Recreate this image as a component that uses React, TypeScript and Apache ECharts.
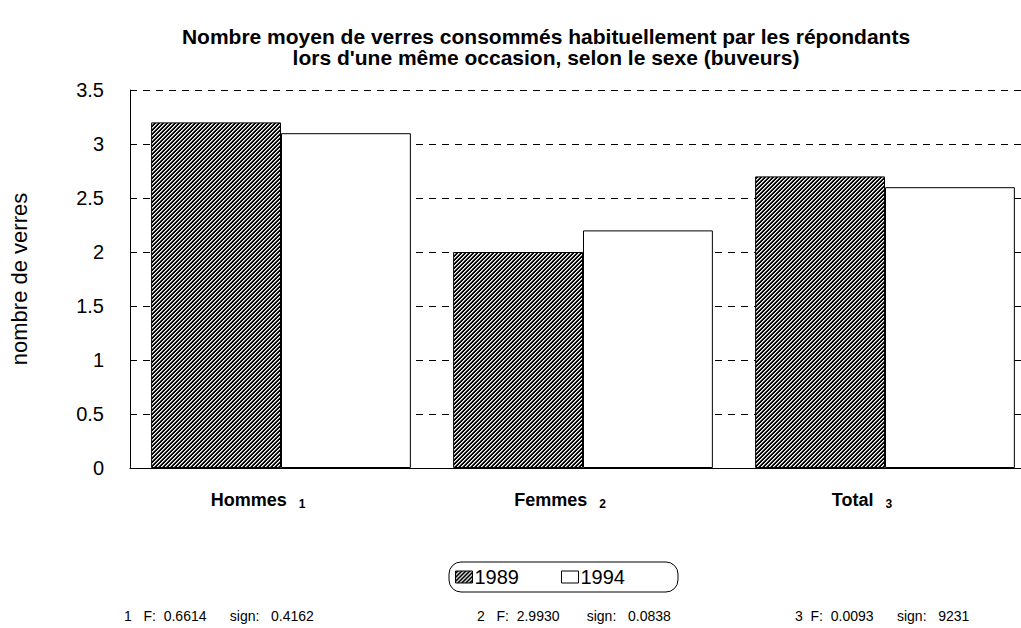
import React, { useEffect, useRef } from "react";
import * as echarts from "echarts";

const categories = ["Hommes", "Femmes", "Total"];
const notes = ["1", "2", "3"];
const seriesNames = ["1989", "1994"];
const values1989 = [3.2, 2.0, 2.7];
const values1994 = [3.1, 2.2, 2.6];
const footnotes = [
  "1   F:  0.6614      sign:   0.4162",
  "2   F:  2.9930       sign:   0.0838",
  "3  F:  0.0093      sign:   9231",
];
const titleLines = [
  "Nombre moyen de verres consommés habituellement par les répondants",
  "lors d'une même occasion, selon le sexe (buveurs)",
];

function makeHatch(): string {
  const c = document.createElement("canvas");
  c.width = 4;
  c.height = 4;
  const ctx = c.getContext("2d")!;
  ctx.fillStyle = "#000";
  ctx.fillRect(0, 0, 4, 4);
  for (let y = 0; y < 4; y++) {
    ctx.fillStyle = "#ffffff";
    ctx.fillRect((3 - y + 4) % 4, y, 1, 1);
    ctx.fillStyle = "#9a9a9a";
    ctx.fillRect((4 - y + 4) % 4, y, 1, 1);
  }
  return c.toDataURL();
}

export default function App() {
  const ref = useRef<HTMLDivElement>(null);
  useEffect(() => {
    if (!ref.current) return;
    const chart = echarts.init(ref.current, null, { renderer: "svg" });
    const hatch = { image: makeHatch(), repeat: "repeat" };
    const font = "'Liberation Sans', Arial, Helvetica, sans-serif";
    chart.setOption({
      animation: false,
      textStyle: { fontFamily: font, color: "#000" },
      title: {
        text: titleLines.join("\n"),
        left: 541,
        top: 21,
        textAlign: "center",
        textStyle: { fontSize: 21, fontWeight: "bold", lineHeight: 21, color: "#000", fontFamily: font },
      },
      legend: {
        left: 449,
        top: 562,
        icon: "rect",
        itemWidth: 17,
        itemHeight: 12,
        itemGap: 42,
        padding: [5, 53, 5, 6],
        borderColor: "#000",
        borderWidth: 1,
        borderRadius: 12,
        data: seriesNames,
        itemStyle: { borderColor: "#000", borderWidth: 1 },
        textStyle: { fontSize: 20, color: "#000", fontFamily: font, padding: [0, 0, 0, -3] },
      },
      grid: { left: 129, top: 90, width: 907, height: 378 },
      xAxis: {
        type: "category",
        data: categories,
        axisLine: { lineStyle: { color: "#000", width: 1 } },
        axisTick: { show: false },
        axisLabel: {
          margin: 22,
          padding: [0, 46, 0, 0],
          formatter: (v: string, i: number) => `{b|${v}}{s|${notes[i]}}`,
          rich: {
            b: { fontSize: 18, fontWeight: "bold", color: "#000", fontFamily: font },
            s: { fontSize: 12, fontWeight: "bold", color: "#000", fontFamily: font, padding: [8, 0, 0, 12] },
          },
        },
      },
      yAxis: {
        type: "value",
        min: 0,
        max: 3.5,
        interval: 0.5,
        name: "nombre de verres",
        nameLocation: "middle",
        nameGap: 100,
        nameTextStyle: { fontSize: 22, color: "#000", fontFamily: font },
        axisLine: { show: true, lineStyle: { color: "#000", width: 1 } },
        axisTick: { show: false },
        axisLabel: { fontSize: 20, color: "#000", margin: 26, fontFamily: font },
        splitLine: { lineStyle: { color: "#000", type: [7, 6], width: 1 } },
      },
      series: [
        {
          name: seriesNames[0],
          type: "bar",
          data: values1989,
          barGap: "0%",
          barCategoryGap: "14%",
          itemStyle: { color: hatch, borderColor: "#000", borderWidth: 1 },
        },
        {
          name: seriesNames[1],
          type: "bar",
          data: values1994,
          itemStyle: { color: "#fff", borderColor: "#000", borderWidth: 1 },
        },
      ],
      graphic: footnotes.map((t, i) => ({
        type: "text",
        left: [124, 477, 795][i],
        top: 609,
        style: { text: t, fill: "#000", font: `14px ${font}` },
      })),
    });
    return () => chart.dispose();
  }, []);
  return (
    <div style={{ position: "absolute", left: 0, top: 0, width: 1021, height: 628, overflow: "hidden", background: "#fff" }}>
      <div ref={ref} style={{ width: 1040, height: 628 }} />
    </div>
  );
}
